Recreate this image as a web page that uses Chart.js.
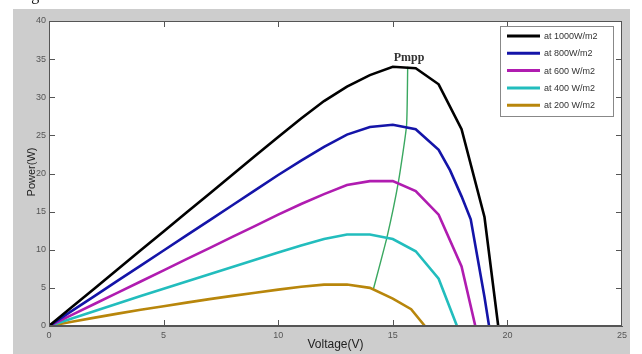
<!DOCTYPE html>
<html><head><meta charset="utf-8">
<script src="https://cdn.jsdelivr.net/npm/chart.js@4/dist/chart.umd.min.js"></script>
<style>html,body{margin:0;padding:0;background:#fff}#wrap{width:642px;height:354px;position:relative}</style>
</head><body><div id="wrap"><canvas id="c" width="642" height="354"></canvas></div>
<script>
const xTicks = [0, 5, 10, 15, 20, 25];
const yTicks = [0, 5, 10, 15, 20, 25, 30, 35, 40];
const seriesLabels = ["at 1000W/m2", "at 800W/m2", "at 600 W/m2", "at 400 W/m2", "at 200 W/m2"];

const v1000 = [0,1,2,3,4,5,6,7,8,9,10,11,12,13,14,15,16,17,18,19,19.6];
const p1000 = [0,2.48,4.96,7.44,9.92,12.4,14.88,17.36,19.84,22.32,24.8,27.2,29.5,31.4,32.9,34.0,33.8,31.7,25.8,14.3,0];

const v800 = [0,1,2,3,4,5,6,7,8,9,10,11,12,13,14,15,16,17,17.5,18,18.4,19.0,19.2];
const p800 = [0,1.98,3.96,5.94,7.92,9.9,11.88,13.86,15.84,17.82,19.8,21.7,23.5,25.1,26.1,26.4,25.8,23.1,20.4,17.0,14.0,3.8,0];

const v600 = [0,1,2,3,4,5,6,7,8,9,10,11,12,13,14,15,16,17,18,18.6];
const p600 = [0,1.46,2.92,4.38,5.84,7.3,8.76,10.22,11.68,13.14,14.6,16.0,17.3,18.5,19.0,19.0,17.7,14.6,7.8,0];

const v400 = [0,1,2,3,4,5,6,7,8,9,10,11,12,13,14,15,16,17,17.8];
const p400 = [0,0.98,1.96,2.94,3.92,4.88,5.84,6.8,7.75,8.7,9.65,10.55,11.4,12.0,12.0,11.4,9.8,6.2,0];

const v200 = [0,1,2,3,4,5,6,7,8,9,10,11,12,13,14,15,15.8,16.4];
const p200 = [0,0.55,1.1,1.62,2.12,2.6,3.07,3.52,3.95,4.37,4.77,5.15,5.42,5.45,5.0,3.6,2.2,0];

const vMpp = [14.15,14.75,15.25,15.6,15.65];
const pMpp = [4.8,11.7,19.0,26.3,34.0];

const colors = ["#000000", "#1414a8", "#b01cb0", "#22bdbd", "#b8860b"];

function pts(v, p){ return v.map((x,i)=>({x:x, y:p[i]})); }
const volts = [v1000, v800, v600, v400, v200];
const powers = [p1000, p800, p600, p400, p200];

const datasets = seriesLabels.map((lab,i)=>({
  label: lab, data: pts(volts[i], powers[i]), borderColor: colors[i],
  borderWidth: 2.6, pointRadius: 0, tension: 0, fill: false
}));
datasets.push({label: "Pmpp", data: pts(vMpp, pMpp), borderColor: "#3aa860", borderWidth: 1.4, pointRadius: 0, tension: 0.15, fill:false});

const deco = {
  id: 'deco',
  beforeDraw(chart){
    const ctx = chart.ctx, a = chart.chartArea;
    ctx.save();
    ctx.fillStyle = '#ffffff'; ctx.fillRect(0,0,642,354);
    ctx.fillStyle = '#cdcdcd'; ctx.fillRect(13,9,617,345);
    ctx.fillStyle = '#ffffff'; ctx.fillRect(a.left,a.top,a.right-a.left,a.bottom-a.top);
    ctx.fillStyle = '#111'; ctx.font = '16px "Liberation Serif"'; ctx.textBaseline='alphabetic';
    ctx.fillText('Fig', 18, -0.5);
    ctx.restore();
  },
  afterDraw(chart){
    const ctx = chart.ctx, a = chart.chartArea, xs = chart.scales.x, ys = chart.scales.y;
    ctx.save();
    ctx.strokeStyle = '#555'; ctx.lineWidth = 1;
    ctx.strokeRect(a.left+0.5, a.top+0.5, a.right-a.left-1, a.bottom-a.top-1);
    ctx.beginPath();
    xTicks.forEach(v=>{ if(v===xTicks[0]||v===xTicks[xTicks.length-1]) return;
      const px = Math.round(xs.getPixelForValue(v))+0.5;
      ctx.moveTo(px,a.bottom); ctx.lineTo(px,a.bottom-6);
      ctx.moveTo(px,a.top); ctx.lineTo(px,a.top+6);
    });
    yTicks.forEach(v=>{ if(v===yTicks[0]||v===yTicks[yTicks.length-1]) return;
      const py = Math.round(ys.getPixelForValue(v))+0.5;
      ctx.moveTo(a.left,py); ctx.lineTo(a.left+6,py);
      ctx.moveTo(a.right,py); ctx.lineTo(a.right-6,py);
    });
    ctx.stroke();
    // legend
    const lx=500, ly=26, lw=113, lh=90;
    ctx.fillStyle='#fff'; ctx.fillRect(lx,ly,lw,lh);
    ctx.strokeStyle='#888'; ctx.strokeRect(lx+0.5,ly+0.5,lw,lh);
    ctx.font='9px "Liberation Sans"'; ctx.textBaseline='middle'; ctx.textAlign='left';
    seriesLabels.forEach((lab,i)=>{
      const y = 36 + i*17.3;
      ctx.strokeStyle=colors[i]; ctx.lineWidth=3;
      ctx.beginPath(); ctx.moveTo(507,y); ctx.lineTo(540,y); ctx.stroke();
      ctx.fillStyle='#333'; ctx.fillText(lab, 544, y+0.5);
    });
    // Pmpp label
    ctx.fillStyle='#333'; ctx.font='bold 12px "Liberation Serif"'; ctx.textAlign='center';
    ctx.fillText('Pmpp', 409, 58);
    // axis titles
    ctx.fillStyle='#222'; ctx.font='12px "Liberation Sans"';
    ctx.fillText('Voltage(V)', (a.left+a.right)/2, 345);
    ctx.translate(32, 172); ctx.rotate(-Math.PI/2);
    ctx.font='11px "Liberation Sans"';
    ctx.fillText('Power(W)', 0, 0);
    ctx.restore();
  }
};

new Chart(document.getElementById('c'), {
  type: 'line',
  data: { datasets },
  options: {
    responsive: false, animation: false, devicePixelRatio: 1,
    layout: { padding: { left: 0, top: 21, right: 20, bottom: 0 } },
    plugins: { legend: { display: false }, tooltip: { enabled: false } },
    scales: {
      x: { type: 'linear', min: 0, max: 25,
        afterBuildTicks(s){ s.ticks = xTicks.map(v=>({value:v})); },
        afterFit(s){ s.height = 28; },
        grid: { display: false, drawTicks: false },
        border: { display: true, color: '#555' },
        ticks: { padding: 4, color: '#555', font: { family: 'Liberation Sans', size: 9 }, maxRotation: 0, autoSkip: false } },
      y: { type: 'linear', min: 0, max: 40,
        afterBuildTicks(s){ s.ticks = yTicks.map(v=>({value:v})); },
        afterFit(s){ s.width = 49; },
        grid: { display: false, drawTicks: false },
        border: { display: true, color: '#555' },
        ticks: { padding: 3, color: '#555', font: { family: 'Liberation Sans', size: 9 }, autoSkip: false } }
    }
  },
  plugins: [deco]
});
</script></body></html>
